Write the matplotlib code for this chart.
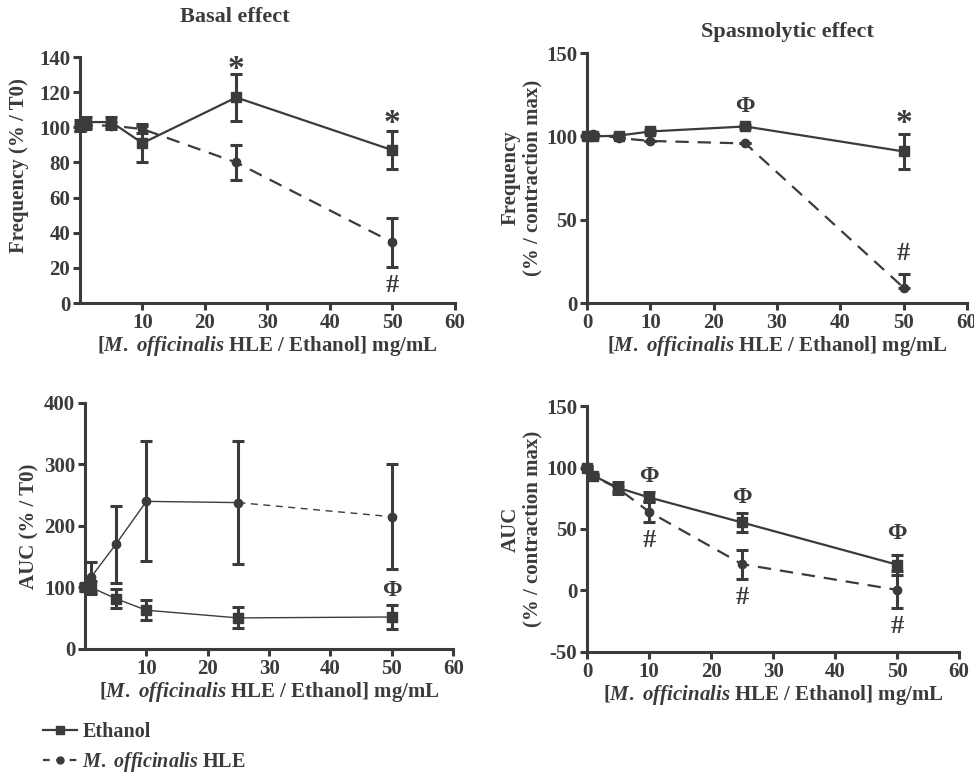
import numpy as np
import matplotlib
matplotlib.use("Agg")
import matplotlib.pyplot as plt
from matplotlib.lines import Line2D

plt.rcParams['font.family'] = ['Liberation Serif', 'DejaVu Serif']
plt.rcParams['font.weight'] = 'bold'
plt.rcParams['axes.labelweight'] = 'bold'
plt.rcParams['axes.unicode_minus'] = False
plt.rcParams['mathtext.fontset'] = 'custom'
plt.rcParams['mathtext.it'] = 'Liberation Serif:italic:bold'
plt.rcParams['mathtext.rm'] = 'Liberation Serif:bold'

C = '#3b3b3b'

# concentrations (mg/mL)
conc = [0, 1, 5, 10, 25, 50]

# basal frequency
bf_eth = [101, 103, 103, 91, 117, 87]
bf_eth_err = [3, 3, 3, 11, 13.5, 11]
bf_hle = [100, 101, 101, 99, 80, 34.5]
bf_hle_err = [2, 2, 2, 2, 9.7, 14]

# spasmolytic frequency
sf_eth = [100, 100, 100.5, 103, 106, 91]
sf_eth_err = [1, 1, 1, 1, 1, 10.5]
sf_hle = [101, 101.5, 99, 97.3, 95.8, 9.2]
sf_hle_err_lo = [0, 0, 0, 0, 0, 0]
sf_hle_err_hi = [0, 0, 0, 0, 0, 8.5]

# basal AUC
ba_eth = [101, 100, 82, 63, 50.5, 52]
ba_eth_err = [5, 10, 15, 16, 17, 20]
ba_hle = [100, 117, 170, 240, 238, 215]
ba_hle_err = [5, 25, 63, 97.5, 100, 85]

# spasmolytic AUC
sa_eth = [100, 93.4, 83.5, 75.7, 55.3, 21]
sa_eth_err = [1, 1, 5, 4, 7.5, 8]
sa_hle = [100, 93, 83, 64, 21.4, 0.5]
sa_hle_err = [1, 1, 2, 8.5, 11.7, 15]

xlabel = r'[$\it{M.}$ $\it{officinalis}$ HLE / Ethanol] mg/mL'

fig = plt.figure(figsize=(9.74, 7.76), dpi=100)
ax1 = fig.add_axes([0.0821, 0.6095, 0.385, 0.317])
ax2 = fig.add_axes([0.6027, 0.6095, 0.390, 0.322])
ax3 = fig.add_axes([0.0873, 0.1637, 0.378, 0.317])
ax4 = fig.add_axes([0.6027, 0.1598, 0.382, 0.317])

FS = 15


def style(ax, ylim, yticks, xticks):
    ax.set_xlim(0, 60)
    ax.set_ylim(*ylim)
    ax.set_yticks(yticks)
    ax.set_xticks(xticks)
    for s in ['top', 'right']:
        ax.spines[s].set_visible(False)
    for s in ['left', 'bottom']:
        ax.spines[s].set_linewidth(2.2)
        ax.spines[s].set_color(C)
    ax.tick_params(width=2.2, length=5, color=C, labelcolor=C, labelsize=15,
                   pad=2)
    for lab in ax.get_xticklabels() + ax.get_yticklabels():
        lab.set_fontweight('bold')
    ax.set_xlabel(xlabel, fontsize=FS, color=C, labelpad=1)


def series(ax, y, err, marker, ls, ms, lw=1.6, color=C):
    ax.errorbar(conc, y, yerr=err, color=color, marker=marker, ms=ms, ls=ls,
                lw=lw, elinewidth=2.2, capsize=4, capthick=2.2, clip_on=False,
                dashes=(6, 4) if ls == '--' else (None, None), zorder=3)


# panel 1
series(ax1, bf_eth, bf_eth_err, 's', '-', 7)
series(ax1, bf_hle, bf_hle_err, 'o', '--', 6)
style(ax1, (0, 140), range(0, 141, 20), range(10, 61, 10))
ax1.set_ylabel('Frequency (% / T0)', fontsize=FS, color=C, labelpad=3)
ax1.yaxis.set_label_coords(-0.135, 0.56)
ax1.text(25, 133, '*', fontsize=24, ha='center', va='center', color=C)
ax1.text(50, 102, '*', fontsize=24, ha='center', va='center', color=C)
ax1.text(50, 10, '#', fontsize=19, ha='center', va='center', color=C)

# panel 2
series(ax2, sf_eth, sf_eth_err, 's', '-', 7)
ax2.errorbar(conc, sf_hle, yerr=[sf_hle_err_lo, sf_hle_err_hi], color=C,
             marker='o', ms=6, ls='--', dashes=(6, 4), lw=1.6, elinewidth=2.2,
             capsize=4, capthick=2.2, clip_on=False, zorder=3)
style(ax2, (0, 150), [0, 50, 100, 150], range(0, 61, 10))
ax2.set_ylabel('Frequency\n(% / contraction max)', fontsize=FS, color=C,
               labelpad=3, linespacing=1.1)
ax2.text(25, 118, 'Φ', fontsize=17, ha='center', va='center', color=C)
ax2.text(50, 108, '*', fontsize=24, ha='center', va='center', color=C)
ax2.text(50, 30, '#', fontsize=19, ha='center', va='center', color=C)

# panel 3
series(ax3, ba_eth, ba_eth_err, 's', '-', 7, lw=1.0, color=C)
ax3.errorbar(conc, ba_hle, yerr=ba_hle_err, color=C, marker='o', ms=6, ls='none',
             elinewidth=2.2, capsize=4, capthick=2.2, clip_on=False, zorder=3)
ax3.plot(conc[:5], ba_hle[:5], color=C, lw=1.0, zorder=2)
ax3.plot(conc[4:], ba_hle[4:], color=C, lw=1.0, ls='--', dashes=(5, 4), zorder=2)
style(ax3, (0, 400), range(0, 401, 100), range(10, 61, 10))
ax3.set_ylabel('AUC (% / T0)', fontsize=FS, color=C, labelpad=3)
ax3.text(50, 95, 'Φ', fontsize=17, ha='center', va='center', color=C)

# panel 4
series(ax4, sa_eth, sa_eth_err, 's', '-', 7)
series(ax4, sa_hle, sa_hle_err, 'o', '--', 6)
style(ax4, (-50, 150), [-50, 0, 50, 100, 150], range(0, 61, 10))
ax4.set_ylabel('AUC\n(% / contraction max)', fontsize=FS, color=C,
               labelpad=3, linespacing=1.1)
for x, y in [(10, 93), (25, 76), (50, 46)]:
    ax4.text(x, y, 'Φ', fontsize=17, ha='center', va='center', color=C)
for x, y in [(10, 41), (25, -6), (50, -29)]:
    ax4.text(x, y, '#', fontsize=19, ha='center', va='center', color=C)

# titles
fig.text(235 / 974, 1 - 17 / 776, 'Basal effect', fontsize=16, ha='center',
         va='center', color=C)
fig.text(787 / 974, 1 - 32 / 776, 'Spasmolytic effect', fontsize=16,
         ha='center', va='center', color=C)

# legend
handles = [
    Line2D([], [], color=C, marker='s', ms=6, lw=1.6),
    Line2D([], [], color=C, marker='o', ms=5, lw=1.6, ls='--', dashes=(3, 3)),
]
labels = ['Ethanol', r'$\it{M.}$ $\it{officinalis}$ HLE']
fig.legend(handles, labels, loc='upper left', bbox_to_anchor=(0.036, 0.08),
           frameon=False, fontsize=14.5, handlelength=1.7, handletextpad=0.25,
           labelspacing=0.4, labelcolor=C, borderaxespad=0)

fig.savefig('out.png', dpi=100)
